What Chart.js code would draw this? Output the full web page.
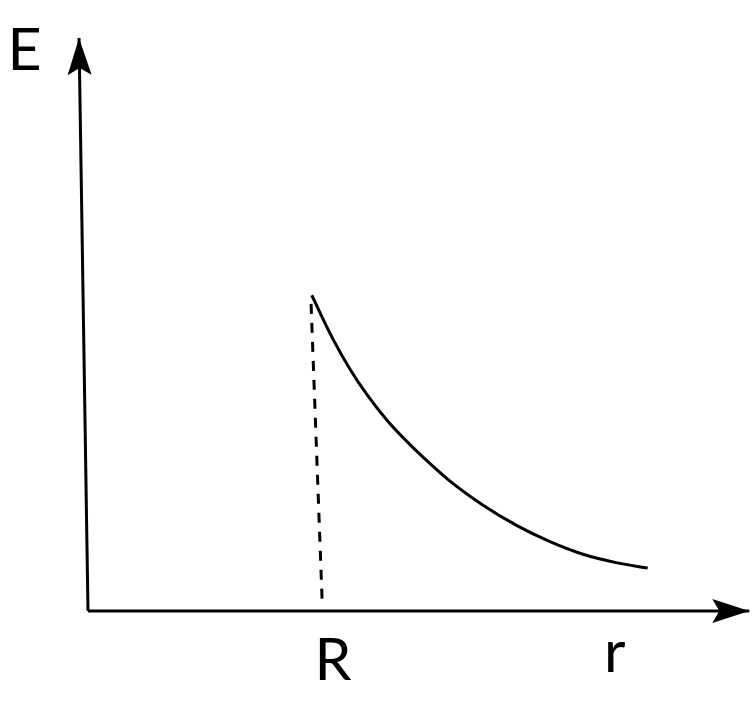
<!DOCTYPE html>
<html>
<head>
<meta charset="utf-8">
<script src="https://cdn.jsdelivr.net/npm/chart.js@4"></script>
<style>
  html, body { margin: 0; padding: 0; background: #fff; }
  #wrap { width: 756px; height: 707px; }
</style>
</head>
<body>
<div id="wrap"><canvas id="chart" width="756" height="707"></canvas></div>
<script>
// field strength E against distance r, outside a sphere of radius R
const curveR = [3.39, 3.71, 3.97, 4.23, 4.53, 4.83, 5.08, 5.48, 5.98, 6.50, 7.00, 7.50, 8.02, 8.48];
const curveE = [5.51, 4.75, 4.22, 3.77, 3.33, 2.96, 2.68, 2.27, 1.85, 1.49, 1.21, 0.99, 0.84, 0.75];

const dashR = [3.38, 3.55];
const dashE = [5.36, 0.10];

const axisYr = [0, -0.136];
const axisYe = [0, 10.0];
const axisXr = [0, 10.02];
const axisXe = [0, 0];

const labelText = ['E', 'R', 'r'];
const labelR = [-0.96, 3.71, 7.98];
const labelE = [9.44, -1.20, -1.06];

const pts = (xs, ys) => xs.map((x, i) => ({ x, y: ys[i] }));

const arrowPlugin = {
    id: 'arrows',
    afterDatasetsDraw(chart) {
        const { ctx, scales: { x, y } } = chart;
        [[axisYr, axisYe], [axisXr, axisXe]].forEach(([xs, ys]) => {
            const x0 = x.getPixelForValue(xs[0]), y0 = y.getPixelForValue(ys[0]);
            const x1 = x.getPixelForValue(xs[1]), y1 = y.getPixelForValue(ys[1]);
            const a = Math.atan2(y1 - y0, x1 - x0);
            ctx.save();
            ctx.translate(x1, y1);
            ctx.rotate(a);
            ctx.beginPath();
            ctx.moveTo(0, 0);
            ctx.lineTo(-37, -12);
            ctx.lineTo(-30, 0);
            ctx.lineTo(-37, 12);
            ctx.closePath();
            ctx.fillStyle = '#000';
            ctx.fill();
            ctx.restore();
        });
    }
};

const labelPlugin = {
    id: 'labels',
    afterDraw(chart) {
        const { ctx, scales: { x, y } } = chart;
        ctx.save();
        ctx.fillStyle = '#000';
        ctx.font = '59px Lato, "Open Sans", sans-serif';
        ctx.textAlign = 'center';
        ctx.textBaseline = 'alphabetic';
        labelText.forEach((t, i) => {
            ctx.fillText(t, x.getPixelForValue(labelR[i]), y.getPixelForValue(labelE[i]));
        });
        ctx.restore();
    }
};

new Chart(document.getElementById('chart'), {
    type: 'scatter',
    data: {
        datasets: [
            { data: pts(curveR, curveE), showLine: true, cubicInterpolationMode: 'monotone', borderColor: '#000', borderWidth: 3, pointRadius: 0 },
            { data: pts(dashR, dashE), showLine: true, borderColor: '#000', borderWidth: 3, borderDash: [10, 9], pointRadius: 0 },
            { data: pts(axisYr, axisYe), showLine: true, borderColor: '#000', borderWidth: 3, pointRadius: 0 },
            { data: pts(axisXr, axisXe), showLine: true, borderColor: '#000', borderWidth: 3, pointRadius: 0 }
        ]
    },
    options: {
        responsive: false,
        animation: false,
        layout: { padding: 0 },
        plugins: { legend: { display: false }, tooltip: { enabled: false } },
        scales: {
            x: { type: 'linear', display: false, min: -88 / 66, max: 668 / 66 },
            y: { type: 'linear', display: false, min: -96 / 57.3, max: 611 / 57.3 }
        }
    },
    plugins: [arrowPlugin, labelPlugin]
});
</script>
</body>
</html>
